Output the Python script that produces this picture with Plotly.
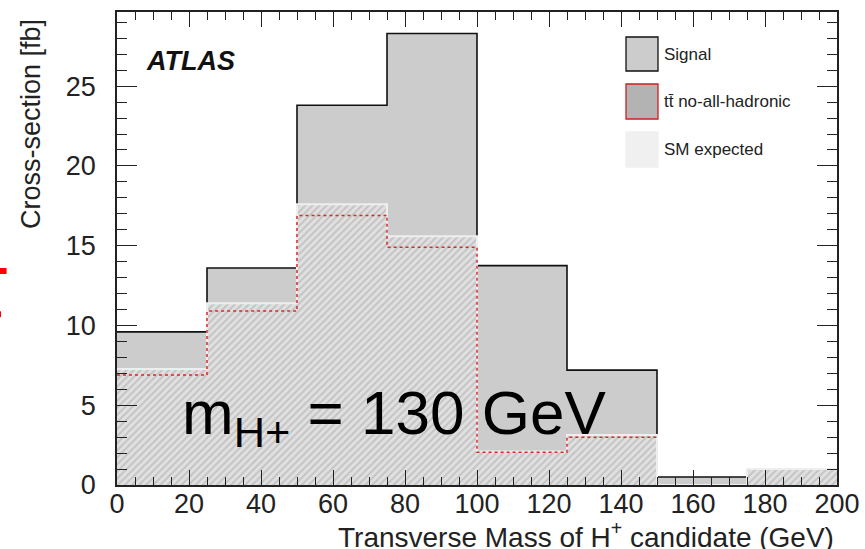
import plotly.graph_objects as go

# ---- data ----
bin_edges = [0, 25, 50, 75, 100, 125, 150, 175, 200]
signal = [9.6, 13.6, 23.8, 28.3, 13.75, 7.2, 0.5, 1.0]
sm_expected = [7.27, 11.4, 17.6, 15.6, 2.1, 3.13, 0.0, 1.0]
ttbar = [6.9, 10.9, 16.9, 14.9, 2.05, 3.0]
x_ticks = [0, 20, 40, 60, 80, 100, 120, 140, 160, 180, 200]
y_ticks = [0, 5, 10, 15, 20, 25]

FONT = "Liberation Sans, Arial, sans-serif"

def step(vals, edges):
    xs = list(edges[:len(vals) + 1])
    ys = list(vals) + [vals[-1]]
    return xs, ys

fig = go.Figure()

sx, sy = step(signal, bin_edges)
fig.add_trace(go.Scatter(x=sx, y=sy, mode="lines", line_shape="hv",
                         line=dict(color="#111111", width=1.6),
                         fill="tozeroy", fillcolor="#cccccc",
                         showlegend=False, hoverinfo="skip"))

mx, my = step(sm_expected, bin_edges)
fig.add_trace(go.Scatter(x=mx, y=my, mode="lines", line_shape="hv",
                         line=dict(color="#eeeeee", width=2),
                         fill="tozeroy", fillcolor="#dadada",
                         fillpattern=dict(shape="/", bgcolor="#e0e0e0", fgcolor="#a6a6a6",
                                          size=5, solidity=0.4),
                         showlegend=False, hoverinfo="skip"))

tx, ty = step(ttbar, bin_edges)
fig.add_trace(go.Scatter(x=tx, y=ty, mode="lines", line_shape="hv",
                         line=dict(color="#d42a2a", width=1.5, dash="3px,3px"),
                         showlegend=False, hoverinfo="skip"))

# ---- geometry (page pixels) ----
L, R = 117, 837   # plot area in page pixels
T, B = 12, 485
W, H = 865, 549

def px(x):
    return (x - L) / (R - L)
def py(y):
    return (B - y) / (B - T)

legend = [
    ("Signal", "#cccccc", "#111111", 37, 71),
    ("tt\u0304 no-all-hadronic", "#b3b3b3", "#cc1f1f", 84, 119),
    ("SM expected", "#f0f0f0", "#f0f0f0", 132, 167),
]
for label, fc, lc, y0, y1 in legend:
    fig.add_shape(type="rect", xref="paper", yref="paper",
                  x0=px(626), x1=px(658), y0=py(y1), y1=py(y0),
                  fillcolor=fc, line=dict(color=lc, width=1.3))
    fig.add_annotation(xref="paper", yref="paper", x=px(662), y=py((y0 + y1) / 2),
                       text=label, showarrow=False, xanchor="left", yanchor="middle",
                       font=dict(family=FONT, size=17, color="#222222"))

# ATLAS label
fig.add_annotation(xref="paper", yref="paper", x=px(144), y=py(61),
                   text="<b><i>ATLAS</i></b>", showarrow=False,
                   xanchor="left", yanchor="middle",
                   font=dict(family=FONT, size=27, color="#111111"))

# big mass label
fig.add_annotation(xref="paper", yref="paper", x=px(180), y=py(458),
                   text="m<sub>H+</sub> = 130 GeV", showarrow=False,
                   xanchor="left", yanchor="bottom",
                   font=dict(family=FONT, size=62, color="#000000"))

# clipped red glyph at the left edge
fig.add_annotation(xref="paper", yref="paper", x=px(9), y=py(285),
                   text="\u03c4", showarrow=False, xanchor="right", yanchor="middle",
                   font=dict(family=FONT, size=92, color="#ff0000"))

# axis titles (ROOT style alignment)
fig.add_annotation(xref="paper", yref="paper", x=px(836), y=py(535),
                   text="Transverse Mass of H<sup>+</sup> candidate (GeV)", showarrow=False,
                   xanchor="right", yanchor="middle",
                   font=dict(family=FONT, size=28, color="#222222"))
fig.add_annotation(xref="paper", yref="paper", x=px(31), y=py(17),
                   text="Cross-section [fb]", showarrow=False, textangle=-90,
                   xanchor="center", yanchor="top",
                   font=dict(family=FONT, size=27, color="#222222"))

fig.update_xaxes(range=[0, 200], tickmode="array", tickvals=x_ticks,
                 ticktext=[str(v) for v in x_ticks],
                 ticks="inside", ticklen=15, tickwidth=1.3, tickcolor="#222222",
                 minor=dict(ticks="inside", dtick=5, tick0=0, ticklen=8,
                            tickwidth=1.2, tickcolor="#222222"),
                 showline=True, linecolor="#222222", linewidth=1.6, mirror="allticks",
                 showgrid=False, zeroline=False, ticklabelstandoff=-6,
                 tickfont=dict(family=FONT, size=27, color="#222222"))
fig.update_yaxes(range=[0, 29.65], tickmode="array", tickvals=y_ticks,
                 ticktext=[str(v) for v in y_ticks],
                 ticks="inside", ticklen=20, tickwidth=1.3, tickcolor="#222222",
                 minor=dict(ticks="inside", dtick=1, tick0=0, ticklen=10,
                            tickwidth=1.2, tickcolor="#222222"),
                 showline=True, linecolor="#222222", linewidth=1.6, mirror="allticks",
                 showgrid=False, zeroline=False, ticklabelstandoff=14,
                 tickfont=dict(family=FONT, size=27, color="#222222"))

fig.update_layout(width=W, height=H,
                  margin=dict(l=L, r=W - R, t=T, b=H - B, autoexpand=False),
                  paper_bgcolor="white", plot_bgcolor="white",
                  showlegend=False)

fig.write_html("out.html",
               config={"displayModeBar": False},
               post_script="document.body.style.margin='0';document.body.style.overflow='hidden';")
